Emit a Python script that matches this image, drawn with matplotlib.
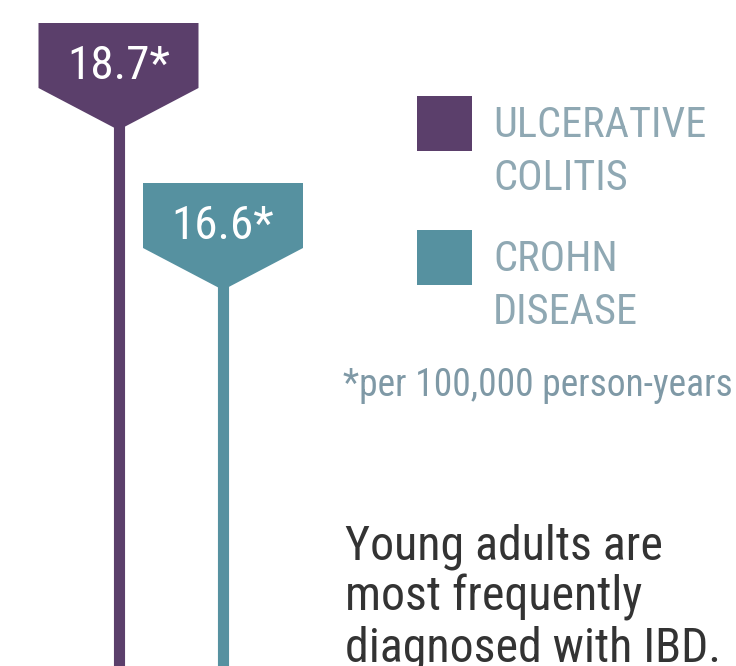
import numpy as np
import matplotlib.pyplot as plt
from matplotlib.patches import Polygon, Rectangle

# data
diseases = [["ULCERATIVE", "COLITIS"], ["CROHN", "DISEASE"]]
rates = [18.7, 16.6]
labels = ["18.7*", "16.6*"]
colors = ["#5B3F6B", "#5691A0"]

FONT = ["Roboto Condensed", "Liberation Sans Narrow", "Roboto", "DejaVu Sans"]
W, H, DPI = 736, 666, 100

fig = plt.figure(figsize=(W / DPI, H / DPI), dpi=DPI)
ax = fig.add_axes([0, 0, 1, 1])
ax.set_axis_off()

# axis scale: 1 x unit = 104.5 px, 2.1 value units = 160 px
px_x = 104.5
px_y = (rates[0] - rates[1]) / 160.0
ax.set_xlim(-118.5 / px_x, (W - 118.5) / px_x)
top = rates[0] + 23 * px_y
ax.set_ylim(top - H * px_y, top)
ymin = top - H * px_y

half_w = 80 / px_x
box_h = 65 * px_y
tri_h = 42 * px_y

for i, (v, lab, c) in enumerate(zip(rates, labels, colors)):
    # stem
    ax.plot([i, i], [ymin - 1, v - box_h - tri_h + 1], color=c, lw=8,
            solid_capstyle="butt", zorder=1)
    # pentagon marker
    pts = [(i - half_w, v), (i + half_w, v), (i + half_w, v - box_h),
           (i, v - box_h - tri_h), (i - half_w, v - box_h)]
    ax.add_patch(Polygon(pts, closed=True, fc=c, ec="none", zorder=2))
    ax.text(i, v - 56 * px_y, lab, ha="center", va="baseline", color="white",
            fontsize=34, family=FONT, zorder=3)

# legend
leg_y = [96, 230]
for c, name, y in zip(colors, diseases, leg_y):
    fig.patches.append(Rectangle((417 / W, 1 - (y + 55) / H), 55 / W, 55 / H,
                                 transform=fig.transFigure, fc=c, ec="none"))
    for j, line in enumerate(name):
        fig.text(493 / W, 1 - (y + 41 + 53 * j) / H, line, ha="left",
                 va="baseline", color="#8FA8B3", fontsize=30.5, family=FONT)

fig.text(343 / W, 1 - 396 / H, "*per 100,000 person-years", ha="left",
         va="baseline", color="#7F99A6", fontsize=27, family=FONT)

fig.text(345 / W, 1 - 662 / H,
         "Young adults are\nmost frequently\ndiagnosed with IBD.",
         ha="left", va="baseline", color="#333333", fontsize=34.5, family=FONT,
         linespacing=1.13)

fig.savefig("out.png", dpi=DPI)
